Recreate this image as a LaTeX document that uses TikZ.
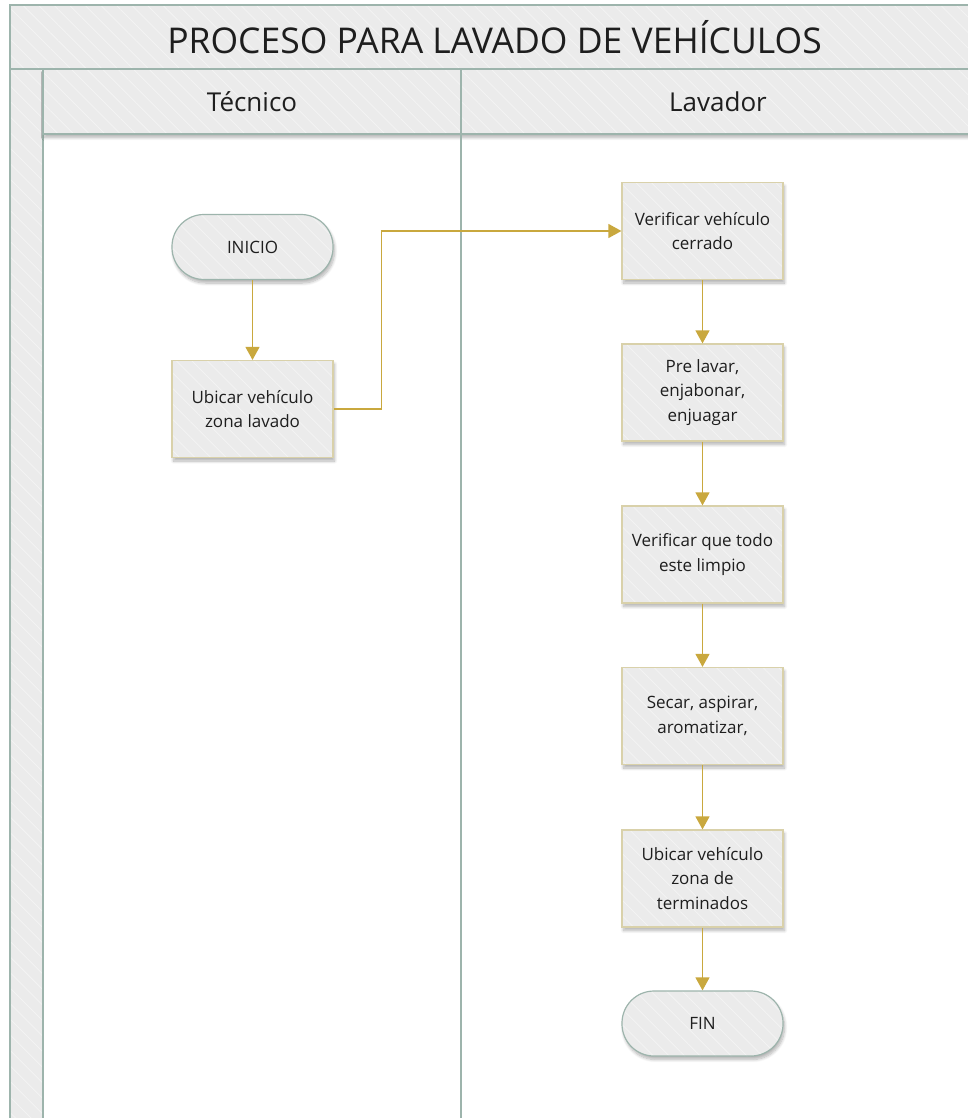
\documentclass[tikz,border=0pt]{standalone}
\usepackage{fontspec}
\setmainfont{Open Sans}
\usetikzlibrary{arrows.meta,shadows.blur,patterns.meta}

\definecolor{bandfill}{HTML}{EBEBEB}
\definecolor{stripe}{HTML}{F3F3F3}
\definecolor{laneline}{HTML}{9DB4AC}
\definecolor{boxline}{HTML}{D9D1AA}
\definecolor{flowgold}{HTML}{C9A83E}
\definecolor{ink}{HTML}{1E1E1E}

\tikzset{
  hatched/.style={
    preaction={fill=bandfill},
    pattern={Lines[angle=-45,distance=11pt,line width=0.9pt]},
    pattern color=stripe},
  band/.style={hatched, draw=laneline, line width=1.6pt},
  softshadow/.style={blur shadow={shadow xshift=1.5pt, shadow yshift=-3.5pt,
      shadow blur radius=3pt, shadow blur steps=8, shadow opacity=30}},
  procbox/.style={softshadow, hatched, draw=boxline, line width=1.2pt,
      minimum width=161pt, minimum height=97pt, align=center,
      text=ink, font=\fontsize{17}{24.5}\selectfont, inner sep=2pt},
  termbox/.style={softshadow, hatched, draw=laneline, line width=1.2pt,
      rounded corners=32pt, minimum width=161pt, minimum height=65pt,
      align=center, text=ink, font=\fontsize{17}{24.5}\selectfont},
  flow/.style={draw=flowgold, line width=1.3pt,
      -{Triangle[length=13pt,width=14pt]}},
  heading/.style={text=ink, font=\fontsize{26}{30}\selectfont},
}

\begin{document}
\begin{tikzpicture}[x=1pt,y=-1pt]
\useasboundingbox (0,0) rectangle (967,1118);

% pool frame: title band, side strip and lane headers
\path[band] (10,5) rectangle (980,69);
\path[band] (10,69) rectangle (43,1130);
\path[softshadow, band] (43,69) rectangle (980,134);
\draw[laneline, line width=1.6pt] (461,69) -- (461,1130);

\node[text=ink, font=\fontsize{35.5}{40}\selectfont] (title) at (494.5,37)
  {PROCESO PARA LAVADO DE VEHÍCULOS};
\node[heading] (tecnico) at (252,101.5) {Técnico};
\node[heading] (lavador) at (718,101.5) {Lavador};

% flow steps
\node[termbox] (inicio) at (252.5,247) {INICIO};
\node[procbox] (ubicar) at (252.5,409) {Ubicar vehículo\\zona lavado};
\node[procbox] (verificar) at (702.5,231) {Verificar vehículo\\cerrado};
\node[procbox] (prelavar) at (702.5,392.5) {Pre lavar,\\enjabonar,\\enjuagar};
\node[procbox] (limpio) at (702.5,554.5) {Verificar que todo\\este limpio};
\node[procbox] (secar) at (702.5,716) {Secar, aspirar,\\aromatizar,};
\node[procbox] (terminados) at (702.5,878.5) {Ubicar vehículo\\zona de\\terminados};
\node[termbox] (fin) at (702.5,1023.5) {FIN};

% connectors
\draw[flow] (inicio) -- (ubicar);
\draw[flow] (ubicar.east) -- ++(48,0) |- (verificar.west);
\draw[flow] (verificar) -- (prelavar);
\draw[flow] (prelavar) -- (limpio);
\draw[flow] (limpio) -- (secar);
\draw[flow] (secar) -- (terminados);
\draw[flow] (terminados) -- (fin);
\end{tikzpicture}
\end{document}
